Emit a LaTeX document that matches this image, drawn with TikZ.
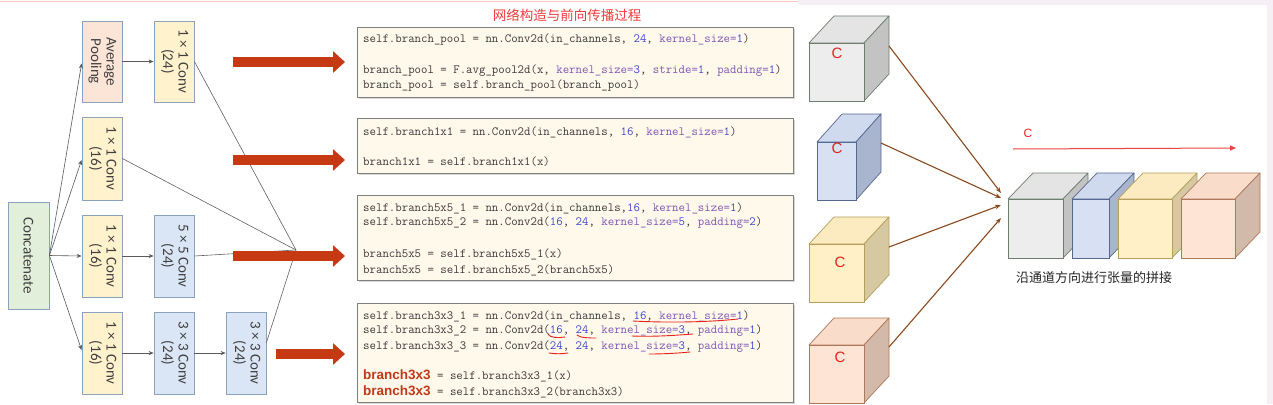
\documentclass[tikz,border=0pt]{standalone}
\usepackage{fontspec}
\usepackage{graphicx}
\usetikzlibrary{arrows.meta,shadows,calc}
\newfontfamily\cjk{Noto Sans CJK SC}
\newfontfamily\carl{Carlito}
\newfontfamily\bsans{Liberation Sans}
\definecolor{boxb}{HTML}{8AA2BE}
\definecolor{ltext}{HTML}{404040}
\definecolor{fpink}{HTML}{FCE4D6}
\definecolor{fyel}{HTML}{FFF2CC}
\definecolor{fblue}{HTML}{DAE6F6}
\definecolor{fgreen}{HTML}{E2EFDA}
\definecolor{redarr}{HTML}{C53A12}
\definecolor{codebg}{HTML}{FFF9EC}
\definecolor{codeb}{HTML}{7F7F7F}
\definecolor{codec}{HTML}{3A3A3A}
\definecolor{numc}{HTML}{3D45D0}
\definecolor{kwc}{HTML}{7E55B4}
\definecolor{bred}{HTML}{C0391B}
\definecolor{titlec}{HTML}{F03C3C}
\definecolor{annot}{HTML}{E8221C}
\definecolor{brown}{HTML}{8B4A1E}
\definecolor{lav}{HTML}{F6EFF6}
\definecolor{pinkline}{HTML}{F8C8C0}
% cube colours
\definecolor{gF}{HTML}{EDEDED}\definecolor{gT}{HTML}{E4E4E4}\definecolor{gS}{HTML}{C3C3C3}\definecolor{gB}{HTML}{6E7E6E}
\definecolor{bF}{HTML}{D7E1F3}\definecolor{bT}{HTML}{D0DAEE}\definecolor{bS}{HTML}{A9B5CE}\definecolor{bB}{HTML}{56688F}
\definecolor{yF}{HTML}{FFF0C8}\definecolor{yT}{HTML}{FCEBC0}\definecolor{yS}{HTML}{D6C9A2}\definecolor{yB}{HTML}{B59F5A}
\definecolor{pF}{HTML}{FDE4D4}\definecolor{pT}{HTML}{FADCCB}\definecolor{pS}{HTML}{D3B9AA}\definecolor{pB}{HTML}{B0785A}
\newcommand\nm[1]{\textcolor{numc}{#1}}
\newcommand\kw[1]{\textcolor{kwc}{#1}}
\newcommand\bw{{\bsans\bfseries\fontsize{13.5}{14}\selectfont\textcolor{bred}{branch3x3}}}
% \mycube{x0}{y0}{x1}{y1}{dx}{dy}{prefix}
\newcommand\mycube[7]{%
  \filldraw[fill=#7T,draw=#7B,line width=0.7pt,line join=round] (#1,#2) -- ++(#5,-#6) -- (#3+#5,#2-#6) -- (#3,#2) -- cycle;
  \filldraw[fill=#7S,draw=#7B,line width=0.7pt,line join=round] (#3,#2) -- (#3+#5,#2-#6) -- (#3+#5,#4-#6) -- (#3,#4) -- cycle;
  \filldraw[fill=#7F,draw=#7B,line width=0.7pt] (#1,#2) rectangle (#3,#4);
}
\tikzset{
  lbox/.style={draw=boxb, line width=0.8pt, inner sep=0pt, minimum width=40pt, text=ltext,
    font=\carl\fontsize{15}{15.5}\selectfont},
  garrow/.style={draw=black!65, line width=0.6pt, -{Stealth[length=5pt,width=4pt]}},
  gline/.style={draw=black!62, line width=0.6pt},
  bigred/.style={draw=redarr, line width=10.5pt, -{Triangle[length=12pt,width=21pt]}},
  codebox/.style={fill=codebg, draw=codeb, line width=0.9pt,
    drop shadow={shadow xshift=1.5pt,shadow yshift=-1.8pt,fill=black!30}},
  codeline/.style={anchor=west, inner sep=0pt, text=codec, font=\ttfamily\fontsize{12.5}{14}\selectfont},
  annotl/.style={draw=annot, line width=0.9pt, line cap=round},
  brarrow/.style={draw=brown, line width=1.1pt, -{Stealth[length=6pt,width=4.5pt]}},
  cmark/.style={text=annot, font=\bsans\fontsize{15}{15}\selectfont, inner sep=0pt},
}
\begin{document}
\begin{tikzpicture}[x=1pt,y=-1pt]
\useasboundingbox (0,0) rectangle (1273,404);
\fill[white] (0,0) rectangle (1273,404);
% background strips
\fill[lav] (798,0) rectangle (1273,5);
\fill[lav] (1267,0) rectangle (1273,404);
\draw[pinkline, line width=1.2pt] (0,1.5) -- (798,1.5);

% ---------------- left network ----------------
\node[lbox, fill=fgreen, minimum width=41pt, minimum height=107pt] (cat) at (28.5,255.5) {\rotatebox{-90}{Concatenate}};
\node[lbox, fill=fpink, minimum height=81pt] (ap) at (102,61.5) {\rotatebox{-90}{\begin{tabular}{@{}c@{}}Average\\Pooling\end{tabular}}};
\node[lbox, fill=fyel, minimum height=81pt] (c1a) at (174,61.5) {\rotatebox{-90}{\begin{tabular}{@{}c@{}}1 × 1 Conv\\(24)\end{tabular}}};
\node[lbox, fill=fyel, minimum height=83pt] (c2) at (102,158.5) {\rotatebox{-90}{\begin{tabular}{@{}c@{}}1 × 1 Conv\\(16)\end{tabular}}};
\node[lbox, fill=fyel, minimum height=82pt] (c3a) at (102,256) {\rotatebox{-90}{\begin{tabular}{@{}c@{}}1 × 1 Conv\\(16)\end{tabular}}};
\node[lbox, fill=fblue, minimum height=82pt] (c3b) at (174,256) {\rotatebox{-90}{\begin{tabular}{@{}c@{}}5 × 5 Conv\\(24)\end{tabular}}};
\node[lbox, fill=fyel, minimum height=82pt] (c4a) at (102,353) {\rotatebox{-90}{\begin{tabular}{@{}c@{}}1 × 1 Conv\\(16)\end{tabular}}};
\node[lbox, fill=fblue, minimum height=82pt] (c4b) at (174,353) {\rotatebox{-90}{\begin{tabular}{@{}c@{}}3 × 3 Conv\\(24)\end{tabular}}};
\node[lbox, fill=fblue, minimum height=82pt] (c4c) at (246,353) {\rotatebox{-90}{\begin{tabular}{@{}c@{}}3 × 3 Conv\\(24)\end{tabular}}};

\draw[garrow] (cat.east) -- ($(ap.west)+(0,2)$);
\draw[garrow] (cat.east) -- ($(c2.west)+(0,1.5)$);
\draw[garrow] (cat.east) -- (c3a.west);
\draw[garrow] (cat.east) -- ($(c4a.west)+(0,-3)$);
\draw[garrow] (ap.east) -- (c1a.west);
\draw[garrow] (c3a.east) -- (c3b.west);
\draw[garrow] (c4a.east) -- (c4b.west);
\draw[garrow] (c4b.east) -- (c4c.west);

\coordinate (M) at (296,250);
\draw[gline] (c1a.east) -- (M);
\draw[gline] (c2.east) -- (M);
\draw[gline] (c3b.east) -- (M);
\draw[gline] ($(c4c.north east)+(0,31)$) -- (M);

% big red arrows
\coordinate (r1s) at (233,62); \coordinate (r1e) at (345,62);
\coordinate (r2s) at (233,160); \coordinate (r2e) at (345,160);
\coordinate (r3s) at (233,256); \coordinate (r3e) at (345,256);
\coordinate (r4s) at (276,354); \coordinate (r4e) at (345,354);
\draw[bigred] (r1s) -- (r1e);
\draw[bigred] (r2s) -- (r2e);
\draw[bigred] (r3s) -- (r3e);
\draw[bigred] (r4s) -- (r4e);

% ---------------- code panel ----------------
\node[font=\cjk\fontsize{13.5}{14}\selectfont, text=titlec, inner sep=0pt] (title) at (567,15) {网络构造与前向传播过程};

\draw[codebox] (357,27) rectangle (793,97);
\draw[codebox] (357,118) rectangle (793,173);
\draw[codebox] (357,195) rectangle (793,280);
\draw[codebox] (357,303) rectangle (793,402.5);

\node[codeline] (l11) at (363,40) {self.branch\_pool = nn.Conv2d(in\_channels, \nm{24}, \kw{kernel\_size=}\nm{1})};
\node[codeline] (l12) at (363,71) {branch\_pool = F.avg\_pool2d(x, \kw{kernel\_size=}\nm{3}, \kw{stride=}\nm{1}, \kw{padding=}\nm{1})};
\node[codeline] (l13) at (363,86) {branch\_pool = self.branch\_pool(branch\_pool)};

\node[codeline] (l21) at (363,132) {self.branch1x1 = nn.Conv2d(in\_channels, \nm{16}, \kw{kernel\_size=}\nm{1})};
\node[codeline] (l22) at (363,162) {branch1x1 = self.branch1x1(x)};

\node[codeline] (l31) at (363,208) {self.branch5x5\_1 = nn.Conv2d(in\_channels,\nm{16}, \kw{kernel\_size=}\nm{1})};
\node[codeline] (l32) at (363,223) {self.branch5x5\_2 = nn.Conv2d(\nm{16}, \nm{24}, \kw{kernel\_size=}\nm{5}, \kw{padding=}\nm{2})};
\node[codeline] (l33) at (363,254) {branch5x5 = self.branch5x5\_1(x)};
\node[codeline] (l34) at (363,270) {branch5x5 = self.branch5x5\_2(branch5x5)};

\node[codeline] (l41) at (363,316) {self.branch3x3\_1 = nn.Conv2d(in\_channels, \nm{16}, \kw{kernel\_size=}\nm{1})};
\node[codeline] (l42) at (363,331) {self.branch3x3\_2 = nn.Conv2d(\nm{16}, \nm{24}, \kw{kernel\_size=}\nm{3}, \kw{padding=}\nm{1})};
\node[codeline] (l43) at (363,347) {self.branch3x3\_3 = nn.Conv2d(\nm{24}, \nm{24}, \kw{kernel\_size=}\nm{3}, \kw{padding=}\nm{1})};
\node[codeline] (l44) at (363,376) {\bw{} = self.branch3x3\_1(x)};
\node[codeline] (l45) at (363,392) {\bw{} = self.branch3x3\_2(branch3x3)};

% hand-drawn red underlines
\draw[annotl] (633,321) .. controls (670,323) and (710,322) .. (738,319);
\draw[annotl] (548,334) .. controls (550,338) and (558,338) .. (565,337);
\draw[annotl] (577,335) .. controls (580,338) and (590,338) .. (596,338);
\draw[annotl] (632,336) .. controls (655,337) and (680,335) .. (693,334);
\draw[annotl] (549,353) .. controls (555,354) and (562,354) .. (568,353);
\draw[annotl] (649,354) .. controls (665,354) and (680,353) .. (690,352);

% ---------------- cubes ----------------
\mycube{809}{43}{864}{101}{25}{27}{g}
\mycube{817}{142}{856}{200}{25}{28}{b}
\mycube{809}{244}{864}{302}{25}{27}{y}
\mycube{809}{345}{864}{403}{25}{27}{p}
\node[cmark] (cm1) at (837,53) {C};
\node[cmark] (cm2) at (837,148) {C};
\node[cmark] (cm3) at (840,262) {C};
\node[cmark] (cm4) at (840,357) {C};

\mycube{1008}{199}{1063}{258}{25}{26}{g}
\mycube{1072}{199}{1109}{258}{25}{26}{b}
\mycube{1118}{199}{1172}{258}{25}{26}{y}
\mycube{1181}{199}{1235}{258}{25}{26}{p}

\coordinate (s1) at (889,46); \coordinate (e1) at (1001,193);
\coordinate (s2) at (881,143); \coordinate (e2) at (1001,198);
\coordinate (s3) at (889,247); \coordinate (e3) at (1001,205);
\coordinate (s4) at (889,347); \coordinate (e4) at (1001,218);
\draw[brarrow] (s1) -- (e1);
\draw[brarrow] (s2) -- (e2);
\draw[brarrow] (s3) -- (e3);
\draw[brarrow] (s4) -- (e4);

\node[text=annot, font=\bsans\fontsize{12}{12}\selectfont, inner sep=0pt] (ctop) at (1028,133) {C};
\coordinate (ca) at (1013,149); \coordinate (cb) at (1236,148);
\draw[annot!85, line width=1pt, -{Triangle[length=6pt,width=5pt]}] (ca) -- (cb);

\node[anchor=west, inner sep=0pt, text=black!85, font=\cjk\fontsize{13}{14}\selectfont] (cap) at (1016,278) {沿通道方向进行张量的拼接};
\end{tikzpicture}
\end{document}
